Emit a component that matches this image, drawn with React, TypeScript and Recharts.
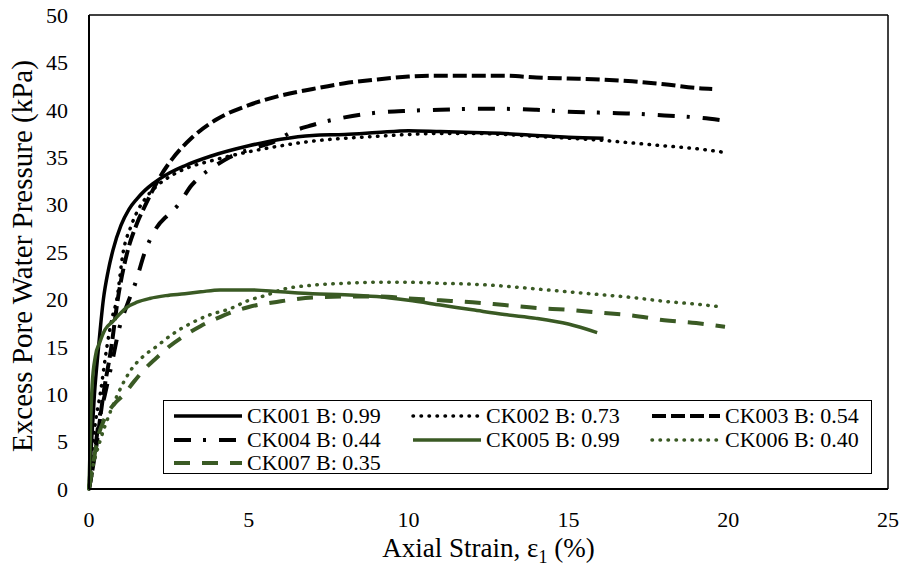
import { LineChart, Line, XAxis, YAxis, ReferenceLine, Legend, Label } from "recharts";

const FONT = '"Liberation Serif", "Times New Roman", serif';
const GREEN = "#3a5a24";

const xTicks = [0, 5, 10, 15, 20, 25];
const yTicks = [0, 5, 10, 15, 20, 25, 30, 35, 40, 45, 50];

// axial strain (%) / excess pore pressure (kPa)
const ck001Strain = [0, 0.08, 0.17, 0.3, 0.45, 0.6, 0.75, 1.0, 1.25, 1.5, 1.75, 2.0, 2.5, 3.0, 3.8, 5.0, 6.0, 7.0, 8.0, 9.0, 10.0, 11.0, 12.0, 13.0, 14.0, 15.0, 16.1];
const ck001Pressure = [0, 5, 10, 15, 20, 23, 25.2, 27.8, 29.5, 30.6, 31.5, 32.2, 33.3, 34.1, 35.1, 36.2, 36.9, 37.3, 37.4, 37.6, 37.8, 37.7, 37.6, 37.5, 37.3, 37.1, 37.0];

const ck002Strain = [0, 0.1, 0.2, 0.35, 0.56, 0.72, 0.87, 1.07, 1.3, 1.5, 1.8, 2.1, 2.6, 3.1, 3.8, 4.5, 6.0, 7.0, 8.0, 9.0, 10.0, 11.0, 12.0, 13.0, 14.0, 15.0, 16.0, 17.0, 18.0, 19.0, 19.9];
const ck002Pressure = [0, 4, 7, 10, 15, 18, 20, 25, 27.6, 29.2, 30.8, 31.9, 33.1, 33.9, 34.6, 35.2, 36.2, 36.7, 37.0, 37.2, 37.4, 37.5, 37.5, 37.4, 37.2, 37.0, 36.8, 36.5, 36.2, 35.9, 35.5];

const ck003Strain = [0, 0.25, 0.45, 0.7, 0.9, 1.2, 1.5, 1.8, 2.2, 2.6, 3.2, 4.0, 5.0, 6.0, 7.0, 8.0, 9.0, 10.0, 11.0, 12.0, 13.0, 14.0, 15.0, 16.0, 17.0, 18.0, 19.0, 19.5];
const ck003Pressure = [0, 5, 10, 15, 20, 25, 28, 30.2, 32.8, 34.8, 37, 39, 40.5, 41.5, 42.2, 42.8, 43.2, 43.5, 43.6, 43.6, 43.6, 43.4, 43.3, 43.2, 43.0, 42.7, 42.3, 42.2];

const ck004Strain = [0, 0.15, 0.3, 0.5, 0.7, 0.95, 1.2, 1.45, 1.75, 2.1, 2.5, 2.8, 3.2, 3.5, 4.0, 4.4, 5.0, 5.9, 6.3, 7.0, 8.0, 9.0, 10.0, 11.0, 12.0, 13.0, 14.0, 15.0, 16.0, 17.0, 18.0, 19.0, 19.8];
const ck004Pressure = [0, 3, 7, 10, 13, 17, 19.5, 21.7, 25, 27.5, 29, 30, 32, 33, 34.2, 35, 35.8, 36.8, 37.6, 38.4, 39.2, 39.7, 39.9, 40.0, 40.1, 40.1, 40.0, 39.8, 39.7, 39.6, 39.4, 39.2, 38.9];

const ck005Strain = [0, 0.03, 0.06, 0.1, 0.2, 0.34, 0.5, 0.75, 1.0, 1.2, 1.5, 1.9, 2.4, 3.0, 3.5, 4.1, 5.0, 6.0, 7.0, 8.0, 9.0, 10.0, 11.0, 12.0, 13.0, 14.0, 15.0, 15.9];
const ck005Pressure = [0, 4, 8, 11, 14, 15.5, 16.8, 17.7, 18.6, 19.2, 19.7, 20.1, 20.4, 20.6, 20.8, 21.0, 21.0, 20.8, 20.6, 20.5, 20.3, 19.9, 19.4, 18.9, 18.4, 18.0, 17.4, 16.5];

const ck006Strain = [0, 0.1, 0.34, 0.65, 0.9, 1.3, 1.7, 2.1, 2.6, 3.2, 3.8, 4.4, 5.0, 5.6, 6.0, 7.0, 8.0, 9.0, 10.0, 11.0, 12.0, 13.0, 14.0, 15.0, 16.0, 17.0, 18.0, 19.0, 19.8];
const ck006Pressure = [0, 2, 5, 8, 10, 12.5, 14, 15, 16.3, 17.5, 18.4, 19, 19.9, 20.5, 21.0, 21.5, 21.7, 21.8, 21.8, 21.7, 21.6, 21.4, 21.1, 20.8, 20.5, 20.2, 19.8, 19.5, 19.2];

const ck007Strain = [0, 0.1, 0.25, 0.5, 0.8, 1.1, 1.4, 1.7, 2.1, 2.5, 3.0, 3.5, 4.0, 4.5, 5.0, 6.0, 7.0, 8.0, 9.0, 10.0, 11.0, 12.0, 13.0, 14.0, 15.0, 16.0, 17.0, 18.0, 19.0, 19.9];
const ck007Pressure = [0, 2, 5, 7.5, 9, 10, 11.3, 12.5, 13.8, 15, 16.2, 17.2, 18, 18.7, 19.2, 19.8, 20.2, 20.3, 20.3, 20.1, 19.9, 19.7, 19.4, 19.1, 18.9, 18.6, 18.3, 17.8, 17.5, 17.1];

const zip = (strain: number[], pressure: number[]) =>
  strain.map((x, i) => ({ x, y: pressure[i] }));

type Series = {
  name: string;
  data: { x: number; y: number }[];
  color: string;
  width: number;
  dash?: string;
  cap?: "round" | "butt";
};

const series: Series[] = [
  { name: "CK001 B: 0.99", data: zip(ck001Strain, ck001Pressure), color: "#000", width: 3.5 },
  { name: "CK002 B: 0.73", data: zip(ck002Strain, ck002Pressure), color: "#000", width: 3.5, dash: "0.5 7.5", cap: "round" },
  { name: "CK003 B: 0.54", data: zip(ck003Strain, ck003Pressure), color: "#000", width: 4, dash: "14 5" },
  { name: "CK004 B: 0.44", data: zip(ck004Strain, ck004Pressure), color: "#000", width: 4, dash: "17 12 3 13" },
  { name: "CK005 B: 0.99", data: zip(ck005Strain, ck005Pressure), color: GREEN, width: 3.5 },
  { name: "CK006 B: 0.40", data: zip(ck006Strain, ck006Pressure), color: GREEN, width: 3.5, dash: "0.5 7.5", cap: "round" },
  { name: "CK007 B: 0.35", data: zip(ck007Strain, ck007Pressure), color: GREEN, width: 4, dash: "16 12" },
];

function LegendBox() {
  return (
    <div
      style={{
        position: "relative",
        width: 709,
        height: 74,
        boxSizing: "border-box",
        border: "1.5px solid #000",
        background: "#fff",
        fontFamily: FONT,
        fontSize: 22,
        color: "#000",
      }}
    >
      {series.map((s, i) => {
        const col = i % 3;
        const row = Math.floor(i / 3);
        return (
          <div
            key={s.name}
            style={{
              position: "absolute",
              left: 8 + col * 239,
              top: 3 + row * 23.5,
              height: 24,
              display: "flex",
              alignItems: "center",
              whiteSpace: "nowrap",
            }}
          >
            <svg width={72} height={10}>
              <line
                x1={2}
                x2={70}
                y1={5}
                y2={5}
                stroke={s.color}
                strokeWidth={s.width}
                strokeDasharray={s.dash}
                strokeLinecap={s.cap ?? "butt"}
              />
            </svg>
            <span style={{ marginLeft: 3, lineHeight: "24px" }}>{s.name}</span>
          </div>
        );
      })}
    </div>
  );
}

const YTitle = (props: any) => {
  const { x, y, height } = props.viewBox;
  const cx = x + 22;
  const cy = y + height / 2 + 4;
  return (
    <text
      x={cx}
      y={cy}
      transform={`rotate(-90, ${cx}, ${cy})`}
      textAnchor="middle"
      dominantBaseline="central"
      fontFamily={FONT}
      fontSize={29}
      fill="#000"
    >
      Excess Pore Water Pressure (kPa)
    </text>
  );
};

const XTitle = (props: any) => {
  const { x, y, width } = props.viewBox;
  return (
    <text x={x + width / 2} y={y + 68} textAnchor="middle" fontFamily={FONT} fontSize={27} fill="#000">
      Axial Strain, ε
      <tspan fontSize={18} dy={6}>1</tspan>
      <tspan dy={-6}> (%)</tspan>
    </text>
  );
};

export default function App() {
  const tickStyle = { fill: "#000", fontSize: 22, fontFamily: FONT };
  return (
    <div style={{ position: "absolute", left: 0, top: 0, width: 901, height: 571, background: "#fff", fontFamily: FONT }}>
      <LineChart width={901} height={571} margin={{ top: 15, right: 13, bottom: 0, left: 0 }}>
        <XAxis
          type="number"
          dataKey="x"
          domain={[0, 25]}
          ticks={xTicks}
          height={82}
          tick={tickStyle}
          tickSize={0}
          tickMargin={22}
          axisLine={{ stroke: "#000", strokeWidth: 2 }}
          tickLine={false}
        >
          <Label content={XTitle} />
        </XAxis>
        <YAxis
          type="number"
          dataKey="y"
          domain={[0, 50]}
          ticks={yTicks}
          width={89}
          tick={tickStyle}
          tickSize={0}
          tickMargin={21}
          axisLine={{ stroke: "#000", strokeWidth: 2 }}
          tickLine={false}
        >
          <Label content={YTitle} />
        </YAxis>
        <ReferenceLine y={50} stroke="#000" strokeWidth={1.5} />
        <ReferenceLine x={25} stroke="#000" strokeWidth={1.5} />
        {series.map((s) => (
          <Line
            key={s.name}
            name={s.name}
            data={s.data}
            dataKey="y"
            type="monotone"
            stroke={s.color}
            strokeWidth={s.width}
            strokeDasharray={s.dash}
            strokeLinecap={s.cap ?? "butt"}
            dot={false}
            activeDot={false}
            isAnimationActive={false}
          />
        ))}
        <Legend
          layout="horizontal"
          verticalAlign="middle"
          align="center"
          wrapperStyle={{ left: 163, top: 400, width: 709, height: 74 }}
          content={() => <LegendBox />}
        />
      </LineChart>
    </div>
  );
}
